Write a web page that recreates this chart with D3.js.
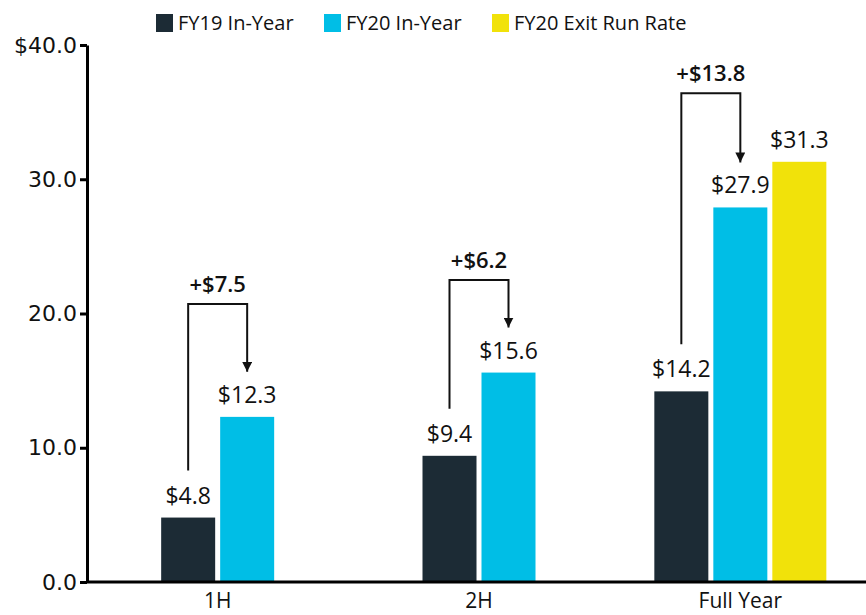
<!DOCTYPE html>
<html>
<head>
<meta charset="utf-8">
<script src="https://cdn.jsdelivr.net/npm/d3@7"></script>
<style>
  body { margin: 0; background: #fff; }
  svg { display: block; }
</style>
</head>
<body>
<svg id="chart" width="866" height="615"></svg>
<script>
// chart values
var categories = ["1H", "2H", "Full Year"];
var seriesNames = ["FY19 In-Year", "FY20 In-Year", "FY20 Exit Run Rate"];
var seriesColors = ["#1c2b35", "#00bee6", "#f1e20a"];
var fy19 = [4.8, 9.4, 14.2];
var fy20 = [12.3, 15.6, 27.9];
var fy20Exit = [null, null, 31.3];
var deltaLabels = ["+$7.5", "+$6.2", "+$13.8"];
var bracketLevels = [20.7, 22.5, 36.4]; // height of bracket top, in $
var yTicks = [0, 10, 20, 30, 40];

var svg = d3.select("#chart");
var width = 866, height = 615;
var axisX = 87, baseY = 582, topY = 45;

var x = d3.scaleBand().domain(categories).range([axisX, 871]).padding(0);
var y = d3.scaleLinear().domain([0, 40]).range([baseY, topY]);

var barW = 54, barGap = 5;
var allSeries = [fy19, fy20, fy20Exit];

// build the bar list
var bars = [];
categories.forEach(function(c, ci) {
    var present = allSeries.map(function(s, si) { return {si: si, v: s[ci]}; })
        .filter(function(d) { return d.v != null; });
    var total = present.length * barW + (present.length - 1) * barGap;
    var start = x(c) + x.bandwidth() / 2 - total / 2;
    present.forEach(function(d, i) {
        bars.push({cat: c, ci: ci, si: d.si, v: d.v, x: start + i * (barW + barGap)});
    });
});

var fontMain = "'Open Sans', 'Noto Sans', sans-serif";

svg.append("g").selectAll("rect")
    .data(bars)
    .enter().append("rect")
    .attr("x", function(d) { return d.x; })
    .attr("y", function(d) { return y(d.v); })
    .attr("width", barW)
    .attr("height", function(d) { return y(0) - y(d.v); })
    .attr("fill", function(d) { return seriesColors[d.si]; });

// value labels
svg.append("g").selectAll("text")
    .data(bars)
    .enter().append("text")
    .attr("x", function(d) { return d.x + barW / 2; })
    .attr("y", function(d) { return y(d.v) - 14; })
    .attr("text-anchor", "middle")
    .style("font-family", fontMain)
    .style("font-size", "23px")
    .attr("fill", "#111")
    .text(function(d) { return "$" + d.v.toFixed(1); });

// y axis
var yAxis = d3.axisLeft(y)
    .tickValues(yTicks)
    .tickSize(7)
    .tickSizeOuter(0)
    .tickPadding(3)
    .tickFormat(function(d) { return (d === 40 ? "$" : "") + d.toFixed(1); });

var gy = svg.append("g")
    .attr("transform", "translate(" + axisX + ",0)")
    .call(yAxis);
gy.select(".domain").attr("stroke", "#000").attr("stroke-width", 3);
gy.selectAll(".tick line").attr("stroke", "#000").attr("stroke-width", 3);
gy.selectAll(".tick text")
    .style("font-family", "'DejaVu Sans', sans-serif")
    .style("font-size", "22px")
    .attr("fill", "#111");

// x baseline
svg.append("line")
    .attr("x1", axisX).attr("x2", width)
    .attr("y1", baseY).attr("y2", baseY)
    .attr("stroke", "#000").attr("stroke-width", 3);

// category labels
svg.append("g").selectAll("text")
    .data(categories)
    .enter().append("text")
    .attr("x", function(d) { return x(d) + x.bandwidth() / 2; })
    .attr("y", 608)
    .attr("text-anchor", "middle")
    .style("font-family", fontMain)
    .style("font-size", "21px")
    .attr("fill", "#111")
    .text(function(d) { return d; });

// brackets with arrows from FY19 to FY20
svg.append("defs").append("marker")
    .attr("id", "arrow")
    .attr("viewBox", "0 0 10 10")
    .attr("refX", 10).attr("refY", 5)
    .attr("markerWidth", 10).attr("markerHeight", 10)
    .attr("markerUnits", "userSpaceOnUse")
    .attr("orient", "auto")
    .append("path")
    .attr("d", "M0,0L10,5L0,10Z")
    .attr("fill", "#111");

categories.forEach(function(c, ci) {
    var b0 = bars.filter(function(d) { return d.ci === ci && d.si === 0; })[0];
    var b1 = bars.filter(function(d) { return d.ci === ci && d.si === 1; })[0];
    var x0 = b0.x + barW / 2, x1 = b1.x + barW / 2;
    var top = y(bracketLevels[ci]);
    var p = d3.path();
    p.moveTo(x0, y(b0.v) - 47);
    p.lineTo(x0, top);
    p.lineTo(x1, top);
    p.lineTo(x1, y(b1.v) - 45);
    svg.append("path")
        .attr("d", p.toString())
        .attr("fill", "none")
        .attr("stroke", "#111")
        .attr("stroke-width", 2)
        .attr("marker-end", "url(#arrow)");
    svg.append("text")
        .attr("x", (x0 + x1) / 2)
        .attr("y", top - 12)
        .attr("text-anchor", "middle")
        .style("font-family", fontMain)
        .style("font-size", "22px")
        .style("font-weight", "600")
        .attr("fill", "#111")
        .text(deltaLabels[ci]);
});

// legend
var legendX = [156, 324, 492];
var legend = svg.append("g").selectAll("g")
    .data(seriesNames)
    .enter().append("g")
    .attr("transform", function(d, i) { return "translate(" + legendX[i] + ",14)"; });
legend.append("rect")
    .attr("width", 17).attr("height", 18)
    .attr("fill", function(d, i) { return seriesColors[i]; });
legend.append("text")
    .attr("x", 22).attr("y", 16)
    .style("font-family", fontMain)
    .style("font-size", "20px")
    .attr("fill", "#111")
    .text(function(d) { return d; });
</script>
</body>
</html>
